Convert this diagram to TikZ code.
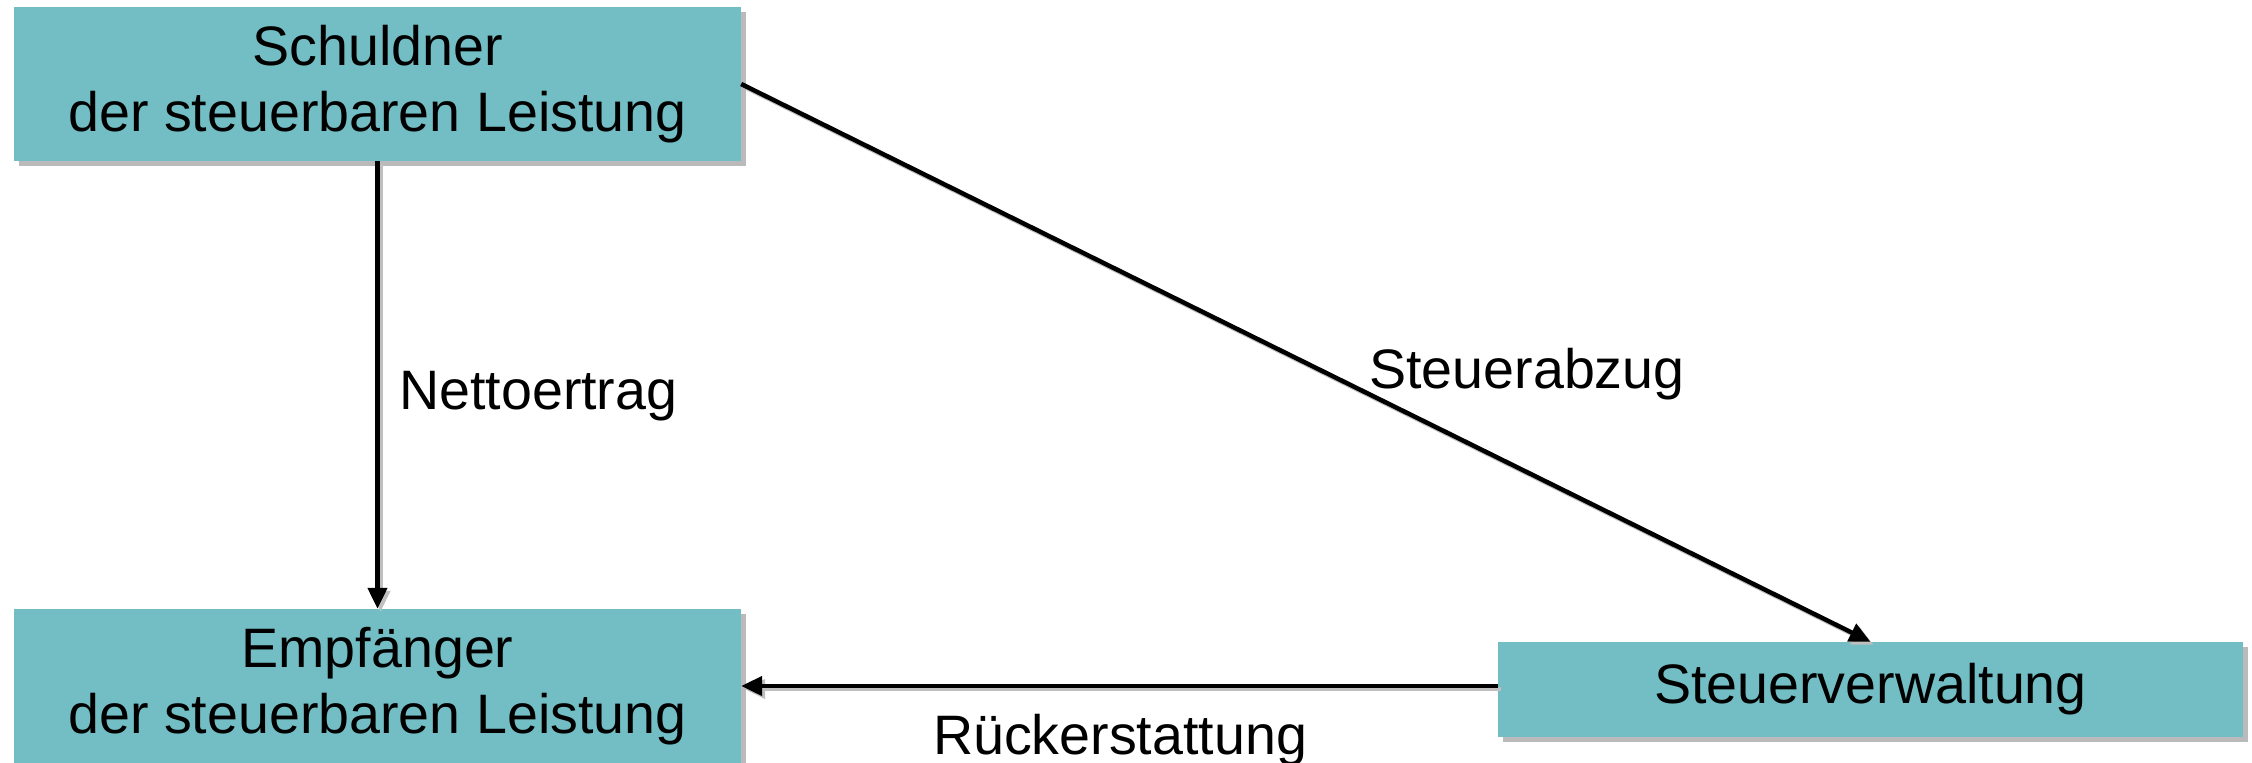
\documentclass[tikz,border=0pt]{standalone}
\usepackage{fontspec}
\setmainfont{Liberation Sans}
\usetikzlibrary{arrows.meta,shadows,calc}
\definecolor{boxteal}{RGB}{114,190,196}
\tikzset{
  box/.style={fill=boxteal, draw=none, inner sep=0pt, align=center,
    font=\fontsize{55.6}{66}\selectfont,
    drop shadow={shadow xshift=5pt, shadow yshift=-5pt, opacity=0.45, fill=black!60}},
  conn/.style={line width=4.5pt, draw=black,
    -{Triangle[length=21pt,width=19pt]},
    preaction={draw=black!25, line width=4pt, transform canvas={shift={(3pt,-3pt)}}}},
  lbl/.style={font=\fontsize{55.6}{66}\selectfont, inner sep=0pt, anchor=base}
}
\begin{document}
\begin{tikzpicture}[x=1pt,y=-1pt]
\useasboundingbox (0,0) rectangle (2252,763);
\fill[white] (0,0) rectangle (2252,763);
\node[box, minimum width=727pt, minimum height=154pt] (b1) at (377.5,84) {Schuldner\\der steuerbaren Leistung};
\node[box, minimum width=727pt, minimum height=154pt] (b2) at (377.5,686) {Empfänger\\der steuerbaren Leistung};
\node[box, minimum width=745pt, minimum height=95pt] (b3) at (1870.5,689.5) {Steuerverwaltung};
\draw[conn] (b1.south) -- (b2.north);
\draw[conn] (b1.east) -- (b3.north);
\draw[conn] (b3.west |- b2.east) -- (b2.east);
\node[lbl, anchor=base west] (l1) at (399,409) {Nettoertrag};
\node[lbl] (l2) at (1527,388) {Steuerabzug};
\node[lbl] (l3) at (1120,754) {Rückerstattung};
\end{tikzpicture}
\end{document}
